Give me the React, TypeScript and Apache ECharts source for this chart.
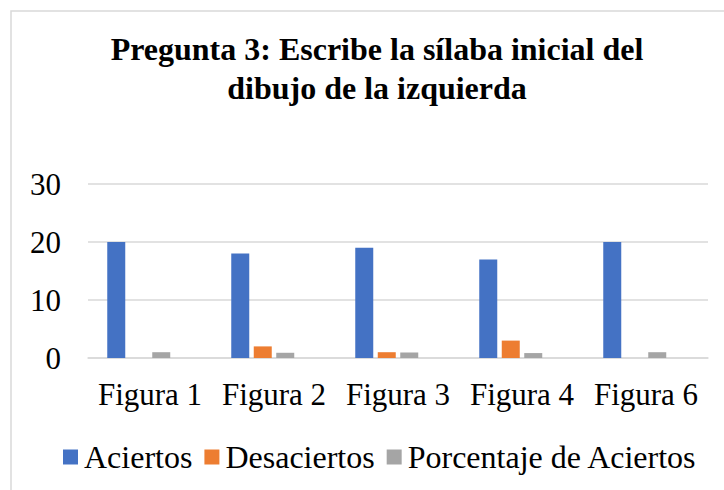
import React, { useEffect, useRef } from "react";
import * as echarts from "echarts";

const categories = ["Figura 1", "Figura 2", "Figura 3", "Figura 4", "Figura 6"];
const aciertos = [20, 18, 19, 17, 20];
const desaciertos = [0, 2, 1, 3, 0];
const porcentaje = [1, 0.9, 0.95, 0.85, 1];
const yTicks = [0, 10, 20, 30];
const titleText = "Pregunta 3: Escribe la sílaba inicial del\ndibujo de la izquierda";

const FONT = "'Liberation Serif', 'Times New Roman', serif";

export default function App() {
  const ref = useRef<HTMLDivElement>(null);
  useEffect(() => {
    if (!ref.current) return;
    const chart = echarts.init(ref.current, undefined, { renderer: "svg" });
    chart.setOption({
      animation: false,
      backgroundColor: "#ffffff",
      graphic: [
        {
          type: "rect",
          shape: { x: 11, y: 11, width: 800, height: 600 },
          style: { fill: "none", stroke: "#d9d9d9", lineWidth: 1.5 },
          silent: true,
          z: -1,
        },
      ],
      title: {
        text: titleText,
        left: 372,
        textAlign: "center",
        top: 24,
        textStyle: {
          fontFamily: FONT,
          fontSize: 32,
          fontWeight: "bold",
          color: "#000000",
          lineHeight: 39,
        },
      },
      legend: {
        data: ["Aciertos", "Desaciertos", "Porcentaje de Aciertos"],
        left: 58,
        top: 436,
        icon: "rect",
        itemWidth: 15,
        itemHeight: 15,
        itemGap: 12,
        textStyle: { fontFamily: FONT, fontSize: 32, color: "#000000", padding: [0, 0, 0, 1] },
      },
      grid: { left: 88, top: 184, width: 620, height: 174, containLabel: false },
      xAxis: {
        type: "category",
        data: categories,
        axisLine: { show: true, lineStyle: { color: "#d9d9d9", width: 1.5 } },
        axisTick: { show: false },
        axisLabel: { fontFamily: FONT, fontSize: 31, color: "#000000", margin: 21, interval: 0 },
      },
      yAxis: {
        type: "value",
        min: yTicks[0],
        max: yTicks[yTicks.length - 1],
        interval: 10,
        axisLine: { show: false },
        axisTick: { show: false },
        axisLabel: { fontFamily: FONT, fontSize: 31, color: "#000000", margin: 27 },
        splitLine: { lineStyle: { color: "#d9d9d9", width: 1.5 } },
      },
      series: [
        { name: "Aciertos", type: "bar", data: aciertos, barWidth: 18, barGap: "25%", itemStyle: { color: "#4472C4" } },
        { name: "Desaciertos", type: "bar", data: desaciertos, barWidth: 18, barGap: "25%", itemStyle: { color: "#ED7D31" } },
        { name: "Porcentaje de Aciertos", type: "bar", data: porcentaje, barWidth: 18, barGap: "25%", itemStyle: { color: "#A5A5A5" } },
        { name: "", type: "bar", data: [null, null, null, null, null], barWidth: 18, barGap: "25%", itemStyle: { color: "#FFC000" } },
      ],
    });
    return () => chart.dispose();
  }, []);
  return (
    <div
      ref={ref}
      style={{ position: "fixed", left: 0, top: 0, width: 724, height: 490 }}
    />
  );
}
